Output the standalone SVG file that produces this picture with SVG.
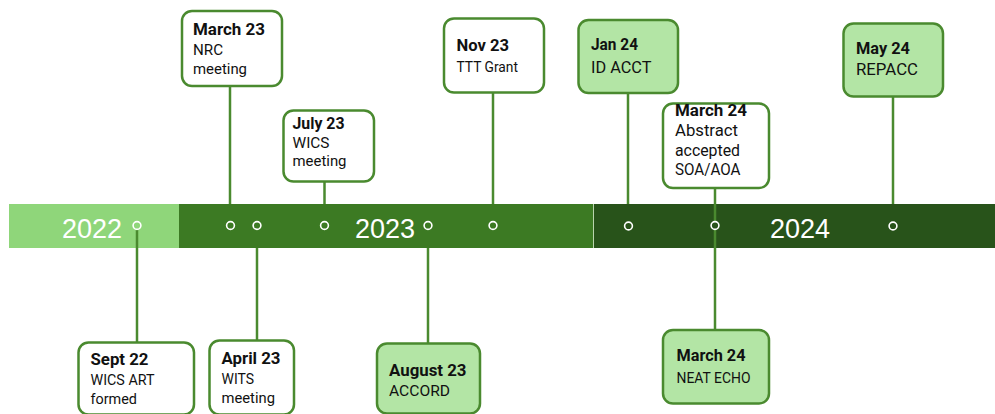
<svg xmlns="http://www.w3.org/2000/svg" width="995" height="414" viewBox="0 0 995 414">
<style>
.box{stroke:#4a8a2f;stroke-width:2.5}
.w{fill:#ffffff}
.g{fill:#b3e5a5}
.t{font-family:Roboto,"Liberation Sans",Arial,sans-serif;font-size:15px;fill:#111111}
.b{font-weight:bold;font-size:16px}
.yr{font-family:"Liberation Sans",Arial,sans-serif;font-size:27px;fill:#ffffff}
.ln{stroke:#4a8a2f;stroke-width:2.5;fill:none}
.dot{stroke:#ffffff;stroke-width:1.6}
</style>
<rect width="995" height="414" fill="#ffffff"/>
<g id="connectors">
<line class="ln" x1="230" y1="86" x2="230" y2="206"/>
<line class="ln" x1="324.5" y1="182" x2="324.5" y2="206"/>
<line class="ln" x1="493" y1="93" x2="493" y2="206"/>
<line class="ln" x1="628" y1="93" x2="628" y2="206"/>
<line class="ln" x1="893" y1="97" x2="893" y2="206"/>
<line class="ln" x1="257" y1="246" x2="257" y2="340"/>
<line class="ln" x1="428" y1="246" x2="428" y2="343"/>
</g>
<g id="timeline">
<rect x="9" y="204" width="170" height="44" fill="#8fd67a"/>
<rect x="179" y="204" width="414.5" height="44" fill="#3c7a23"/>
<rect x="593.5" y="204" width="401.5" height="44" fill="#28531a"/>
<line x1="593.5" y1="204" x2="593.5" y2="248" stroke="#cfe8c4" stroke-width="0.8"/>
<text class="yr" x="92" y="237.5" text-anchor="middle">2022</text>
<text class="yr" x="385" y="237.5" text-anchor="middle">2023</text>
<text class="yr" x="800" y="237.5" text-anchor="middle">2024</text>
</g>
<g id="connectors-over">
<line class="ln" x1="137" y1="229" x2="137" y2="343"/>
<line class="ln" x1="715" y1="186" x2="715" y2="331"/>
</g>
<g id="dots">
<circle class="dot" cx="137" cy="225.5" r="3.9" fill="#8fd67a"/>
<circle class="dot" cx="230.5" cy="225.5" r="3.9" fill="#3c7a23"/>
<circle class="dot" cx="257" cy="225.5" r="3.9" fill="#3c7a23"/>
<circle class="dot" cx="324.5" cy="225.5" r="3.9" fill="#3c7a23"/>
<circle class="dot" cx="428" cy="225.5" r="3.9" fill="#3c7a23"/>
<circle class="dot" cx="493" cy="225.5" r="3.9" fill="#3c7a23"/>
<circle class="dot" cx="628.5" cy="226" r="3.9" fill="#28531a"/>
<circle class="dot" cx="715" cy="225.5" r="3.9" fill="#28531a"/>
<circle class="dot" cx="893" cy="226" r="3.9" fill="#28531a"/>
</g>
<g id="march23">
<rect class="box w" x="182" y="11" width="100" height="75" rx="10"/>
<text class="t b" x="193" y="35" textLength="72" lengthAdjust="spacingAndGlyphs">March 23</text>
<text class="t" x="193" y="55" textLength="30" lengthAdjust="spacingAndGlyphs">NRC</text>
<text class="t" x="193" y="74" textLength="54" lengthAdjust="spacingAndGlyphs">meeting</text>
</g>
<g id="july23">
<rect class="box w" x="283.5" y="110.5" width="90.5" height="71" rx="10"/>
<text class="t b" x="292.5" y="128.5" textLength="52" lengthAdjust="spacingAndGlyphs">July 23</text>
<text class="t" x="292.5" y="147.5" textLength="37" lengthAdjust="spacingAndGlyphs">WICS</text>
<text class="t" x="292.5" y="166" textLength="54" lengthAdjust="spacingAndGlyphs">meeting</text>
</g>
<g id="nov23">
<rect class="box w" x="444" y="18.5" width="100" height="74" rx="10"/>
<text class="t b" x="456.5" y="50.5" textLength="52.5" lengthAdjust="spacingAndGlyphs">Nov 23</text>
<text class="t" x="456.5" y="71.5" textLength="61.5" lengthAdjust="spacingAndGlyphs">TTT Grant</text>
</g>
<g id="jan24">
<rect class="box g" x="578.5" y="20" width="99.5" height="73" rx="10"/>
<text class="t b" x="591" y="50" textLength="47" lengthAdjust="spacingAndGlyphs">Jan 24</text>
<text class="t" x="591" y="72.5" style="font-size:16.5px" textLength="60.5" lengthAdjust="spacingAndGlyphs">ID ACCT</text>
</g>
<g id="march24-top">
<rect class="box w" x="663" y="103.5" width="106" height="84.5" rx="10"/>
<text class="t b" x="675" y="115.5" textLength="72" lengthAdjust="spacingAndGlyphs">March 24</text>
<text class="t" x="675" y="136" style="font-size:16px" textLength="63" lengthAdjust="spacingAndGlyphs">Abstract</text>
<text class="t" x="675" y="155.5" style="font-size:16px" textLength="65" lengthAdjust="spacingAndGlyphs">accepted</text>
<text class="t" x="675" y="174.5" style="font-size:16px" textLength="65.5" lengthAdjust="spacingAndGlyphs">SOA/AOA</text>
</g>
<g id="may24">
<rect class="box g" x="843.5" y="23.5" width="99.5" height="73" rx="10"/>
<text class="t b" x="856" y="53.5" textLength="54" lengthAdjust="spacingAndGlyphs">May 24</text>
<text class="t" x="856" y="75" style="font-size:16.5px" textLength="62" lengthAdjust="spacingAndGlyphs">REPACC</text>
</g>
<g id="sept22">
<rect class="box w" x="78.5" y="342.5" width="115.5" height="72" rx="10"/>
<text class="t b" x="90.5" y="364.5" textLength="58" lengthAdjust="spacingAndGlyphs">Sept 22</text>
<text class="t" x="90.5" y="385" textLength="64" lengthAdjust="spacingAndGlyphs">WICS ART</text>
<text class="t" x="90.5" y="403.5" textLength="46.5" lengthAdjust="spacingAndGlyphs">formed</text>
</g>
<g id="april23">
<rect class="box w" x="209.5" y="340.5" width="84.5" height="74" rx="10"/>
<text class="t b" x="221.5" y="363.5" textLength="59" lengthAdjust="spacingAndGlyphs">April 23</text>
<text class="t" x="221.5" y="384" textLength="32.5" lengthAdjust="spacingAndGlyphs">WITS</text>
<text class="t" x="221.5" y="402.5" textLength="53.5" lengthAdjust="spacingAndGlyphs">meeting</text>
</g>
<g id="august23">
<rect class="box g" x="377" y="343.5" width="103" height="70" rx="10"/>
<text class="t b" x="389" y="376" textLength="77.5" lengthAdjust="spacingAndGlyphs">August 23</text>
<text class="t" x="389" y="396" textLength="61" lengthAdjust="spacingAndGlyphs">ACCORD</text>
</g>
<g id="march24-bottom">
<rect class="box g" x="663" y="330" width="106" height="73.5" rx="10"/>
<text class="t b" x="676.5" y="361" textLength="69" lengthAdjust="spacingAndGlyphs">March 24</text>
<text class="t" x="676.5" y="383" textLength="74" lengthAdjust="spacingAndGlyphs">NEAT ECHO</text>
</g>
</svg>
